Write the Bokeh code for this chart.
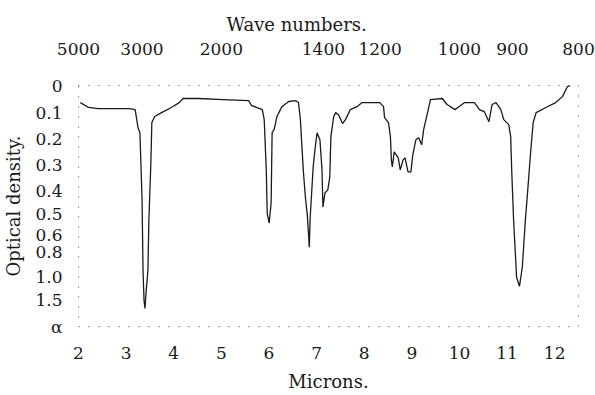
from bokeh.plotting import figure
from bokeh.models import (ColumnDataSource, Range1d, LinearAxis, FixedTicker,
                          CustomJSTransform, CustomJSTickFormatter)
from bokeh.transform import transform
from bokeh.embed import file_html
from bokeh.resources import INLINE

# ---- data (wavelength in microns, optical density) ----
microns = [2.04, 2.21, 2.41, 2.72, 3.07, 3.19, 3.25, 3.29, 3.335, 3.355, 3.376, 3.396,
           3.417, 3.458, 3.478, 3.52, 3.54, 3.60, 3.745, 3.95, 4.115, 4.197, 4.505,
           5.04, 5.573, 5.634, 5.737, 5.86, 5.90, 5.943, 5.963, 6.004, 6.045, 6.066,
           6.107, 6.168, 6.27, 6.415, 6.56, 6.62, 6.66, 6.72, 6.764, 6.805, 6.825,
           6.846, 6.866, 6.928, 6.97, 7.01, 7.07, 7.113, 7.133, 7.175, 7.236, 7.277,
           7.30, 7.36, 7.40, 7.46, 7.544, 7.606, 7.708, 7.85, 7.955, 8.324, 8.406,
           8.427, 8.51, 8.55, 8.57, 8.59, 8.63, 8.715, 8.756, 8.817, 8.858, 8.92,
           8.98, 9.02, 9.084, 9.146, 9.207, 9.248, 9.33, 9.392, 9.64, 9.74, 9.905,
           9.967, 10.11, 10.316, 10.42, 10.52, 10.62, 10.686, 10.768, 10.87, 10.93,
           11.035, 11.076, 11.097, 11.137, 11.2, 11.26, 11.32, 11.384, 11.446,
           11.487, 11.548, 11.61, 11.815, 12.02, 12.164, 12.267, 12.33]
optical_density = [0.063, 0.081, 0.085, 0.085, 0.085, 0.089, 0.158, 0.177, 0.439, 0.944,
                   1.5, 1.96, 1.348, 0.944, 0.529, 0.292, 0.138, 0.115, 0.1, 0.081,
                   0.063, 0.048, 0.048, 0.052, 0.056, 0.074, 0.081, 0.089, 0.127, 0.319,
                   0.496, 0.543, 0.452, 0.177, 0.165, 0.115, 0.078, 0.059, 0.056, 0.063,
                   0.127, 0.319, 0.426, 0.505, 0.576, 0.741, 0.514, 0.308, 0.235, 0.177,
                   0.204, 0.319, 0.47, 0.409, 0.396, 0.346, 0.192, 0.115, 0.1, 0.108,
                   0.142, 0.127, 0.089, 0.078, 0.063, 0.063, 0.078, 0.119, 0.138, 0.192,
                   0.281, 0.308, 0.25, 0.273, 0.319, 0.281, 0.273, 0.327, 0.327, 0.262,
                   0.204, 0.196, 0.223, 0.165, 0.1, 0.052, 0.048, 0.07, 0.089, 0.081,
                   0.063, 0.063, 0.089, 0.096, 0.135, 0.07, 0.063, 0.089, 0.127, 0.146,
                   0.192, 0.319, 0.529, 1.0, 1.196, 0.92, 0.529, 0.369, 0.269, 0.138,
                   0.1, 0.081, 0.063, 0.041, 0.004, 0.0]

micron_ticks = [2, 3, 4, 5, 6, 7, 8, 9, 10, 11, 12]
wave_number_ticks = [5000, 3000, 2000, 1400, 1200, 1000, 900, 800]
od_tick_values = [0, 0.1, 0.2, 0.3, 0.4, 0.5, 0.6, 0.8, 1.0, 1.5, 3.0]
od_tick_labels = ["0", "0.1", "0.2", "0.3", "0.4", "0.5", "0.6", "0.8", "1.0", "1.5", "α"]
# position of each optical-density mark along the printed (non-linear) scale
od_scale_pos = [0, 27, 53, 79, 105, 128, 149, 166, 191, 214, 240]

FONT = "DejaVu Serif"
INK = "#1a1a1a"

src = ColumnDataSource(dict(um=microns, od=optical_density))

od_scale = CustomJSTransform(args=dict(od=od_tick_values, pos=od_scale_pos), v_func="""
const out = new Array(xs.length);
for (let k = 0; k < xs.length; k++) {
  const v = xs[k];
  let i = 0;
  while (i < od.length - 2 && v > od[i + 1]) i++;
  const t = (v - od[i]) / (od[i + 1] - od[i]);
  out[k] = pos[i] + t * (pos[i + 1] - pos[i]);
}
return out;
""")

p = figure(width=595, height=395, output_backend="svg", toolbar_location=None,
           x_range=Range1d(2.0, 12.5), y_range=Range1d(od_scale_pos[-1], 0),
           min_border_left=77, min_border_right=17, min_border_top=85,
           min_border_bottom=69, title="Wave numbers.")
p.background_fill_color = "white"
p.border_fill_color = "white"
p.outline_line_color = "#444444"
p.outline_line_dash = "1 9"
p.outline_line_width = 1
p.xgrid.visible = False
p.ygrid.visible = False

p.title.align = "left"
p.title.offset = 148
p.title.text_font = FONT
p.title.text_font_size = "18px"
p.title.text_font_style = "normal"
p.title.text_color = INK

p.line(x="um", y=transform("od", od_scale), source=src, line_color=INK, line_width=1.3)

def style_axis(ax, standoff):
    ax.axis_line_color = None
    ax.major_tick_line_color = None
    ax.minor_tick_line_color = None
    ax.major_label_text_font = FONT
    ax.major_label_text_font_size = "17px"
    ax.major_label_text_color = INK
    ax.major_label_standoff = standoff
    ax.axis_label_text_font = FONT
    ax.axis_label_text_font_size = "18px"
    ax.axis_label_text_font_style = "normal"
    ax.axis_label_text_color = INK

xa = p.xaxis[0]
xa.ticker = FixedTicker(ticks=micron_ticks)
xa.axis_label = "Microns."
style_axis(xa, 14)
xa.axis_label_standoff = 9

ya = p.yaxis[0]
ya.ticker = FixedTicker(ticks=od_scale_pos)
ya.major_label_overrides = {pos: lab for pos, lab in zip(od_scale_pos, od_tick_labels)}
ya.axis_label = "Optical density."
style_axis(ya, 10)
ya.axis_label_standoff = 8

top = LinearAxis(ticker=FixedTicker(ticks=[10000 / w for w in wave_number_ticks]),
                 formatter=CustomJSTickFormatter(code="return Math.round(10000 / tick).toString();"))
style_axis(top, 25)
p.add_layout(top, "above")

open("out.html", "w").write(file_html(p, INLINE))
